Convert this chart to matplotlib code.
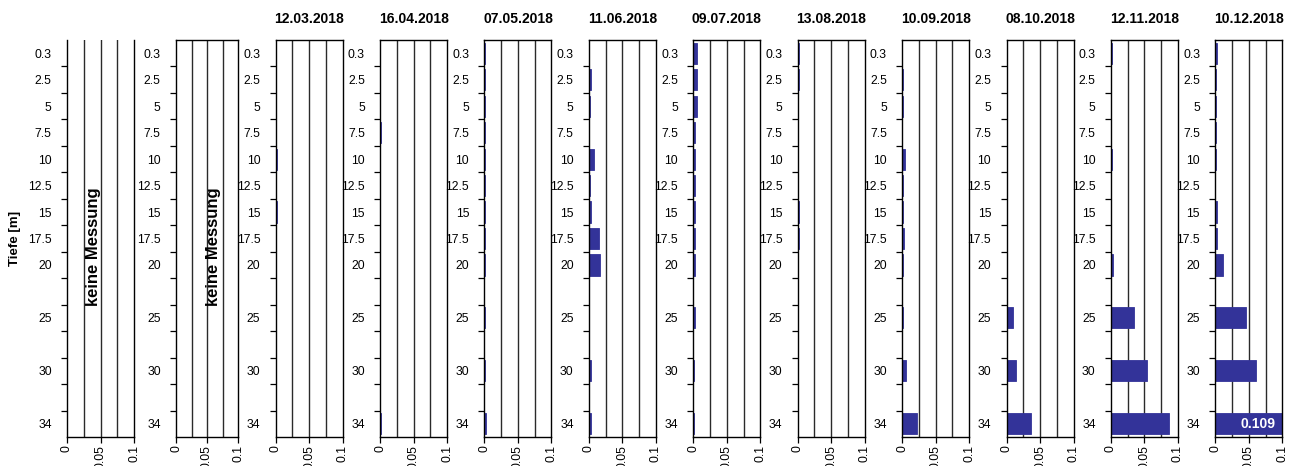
import matplotlib
matplotlib.use("Agg")
import matplotlib.pyplot as plt
import numpy as np

plt.rcParams["font.family"] = ["Liberation Sans", "DejaVu Sans"]

# depth slots (blank = gap row on the chart)
depth_slots = ["0.3", "2.5", "5", "7.5", "10", "12.5", "15", "17.5", "20",
               "", "25", "", "30", "", "34"]
depths = [d for d in depth_slots if d]

dates = [None, None,
         "12.03.2018", "16.04.2018", "07.05.2018", "11.06.2018", "09.07.2018",
         "13.08.2018", "10.09.2018", "08.10.2018", "12.11.2018", "10.12.2018"]

# values per date, same order as `depths`
v_1203 = [0, 0, 0.001, 0, 0.002, 0, 0.0012, 0, 0, 0, 0.001, 0.001]
v_1604 = [0.0005, 0.0003, 0.0003, 0.0015, 0.0003, 0.0003, 0.0003, 0.0003, 0, 0.0003, 0.0003, 0.001]
v_0705 = [0.001, 0.0003, 0.0003, 0.0003, 0.0003, 0.0003, 0.0003, 0.0003, 0.0003, 0.0003, 0.0003, 0.0015]
v_1106 = [0, 0.0035, 0.0015, 0.0005, 0.008, 0.0015, 0.0035, 0.015, 0.0165, 0.0005, 0.0035, 0.0035]
v_0907 = [0.0055, 0.0055, 0.0055, 0.002, 0.003, 0.003, 0.003, 0.003, 0.002, 0.003, 0.001, 0.001]
v_1308 = [0.002, 0.0015, 0, 0, 0, 0, 0.0015, 0.0015, 0.0005, 0.0003, 0.0003, 0.0003]
v_1009 = [0.0005, 0.0015, 0.0015, 0.0005, 0.005, 0.002, 0.0015, 0.003, 0.002, 0.002, 0.006, 0.0225]
v_0810 = [0, 0, 0, 0, 0, 0, 0, 0, 0, 0.01, 0.014, 0.037]
v_1211 = [0.0015, 0, 0.0005, 0.0005, 0.0015, 0, 0, 0, 0.003, 0.034, 0.054, 0.087]
v_1012 = [0.0025, 0.0005, 0.0005, 0.0005, 0.001, 0, 0.003, 0.003, 0.011, 0.046, 0.061, 0.109]

series = [None, None, v_1203, v_1604, v_0705, v_1106, v_0907,
          v_1308, v_1009, v_0810, v_1211, v_1012]

W, H = 1293, 466
fig = plt.figure(figsize=(W / 100, H / 100), dpi=100)

bar_color = "#333399"
ax_top, ax_bot = 40, 437

pos = np.arange(len(depth_slots))
slot_of = {d: i for i, d in enumerate(depth_slots) if d}

for i, (date, vals) in enumerate(zip(dates, series)):
    if i == 0:
        left, width = 67, 67
    elif i == 1:
        left, width = 176, 62
    else:
        left, width = 275.7 + 104.4 * (i - 2), 67
    ax = fig.add_axes([left / W, (H - ax_bot) / H, width / W, (ax_bot - ax_top) / H])

    ax.set_xlim(0, 0.1)
    ax.set_ylim(len(depth_slots) - 0.5, -0.5)

    for gx in (0.025, 0.05, 0.075):
        ax.axvline(gx, color="#2a2a2a", lw=1.0, zorder=0)

    if vals is not None:
        ys = [slot_of[d] for d in depths]
        nz = [v if v > 0 else np.nan for v in vals]
        ax.barh(ys, nz, height=0.8, color=bar_color,
                edgecolor=bar_color, linewidth=0.6, zorder=2)
        ax.set_title(date, fontsize=10, fontweight="bold", pad=12)
    else:
        ax.text(0.39 if i == 0 else 0.61, 0.48, "keine Messung", rotation=90,
                transform=ax.transAxes, ha="center", va="center",
                fontsize=12, fontweight="bold")

    ax.set_yticks(pos)
    ax.set_yticklabels(depth_slots, fontsize=8.8)
    ax.tick_params(axis="y", length=0, pad=11)
    ax.set_yticks(pos[:-1] + 0.5, minor=True)
    ax.tick_params(axis="y", which="minor", length=4, width=0.9, direction="out")

    ax.set_xticks([0, 0.05, 0.1])
    ax.set_xticklabels(["0", "0.05", "0.1"], rotation=90, fontsize=8.8)
    ax.tick_params(axis="x", length=4, width=0.9, pad=2)

    for s in ax.spines.values():
        s.set_linewidth(1.0)
        s.set_color("black")
    if i == 0:
        ax.spines["top"].set_visible(False)
        ax.set_ylabel("Tiefe [m]", fontsize=9.5, fontweight="bold")
        ax.yaxis.set_label_coords(-0.68, 0.5)

    if date == "10.12.2018":
        ax.annotate("0.109", xy=(0.1, slot_of["34"]), xytext=(-5, 0),
                    textcoords="offset points", ha="right", va="center",
                    color="white", fontsize=10, fontweight="bold", zorder=3)

fig.savefig("out.png", dpi=100)
plt.close(fig)
